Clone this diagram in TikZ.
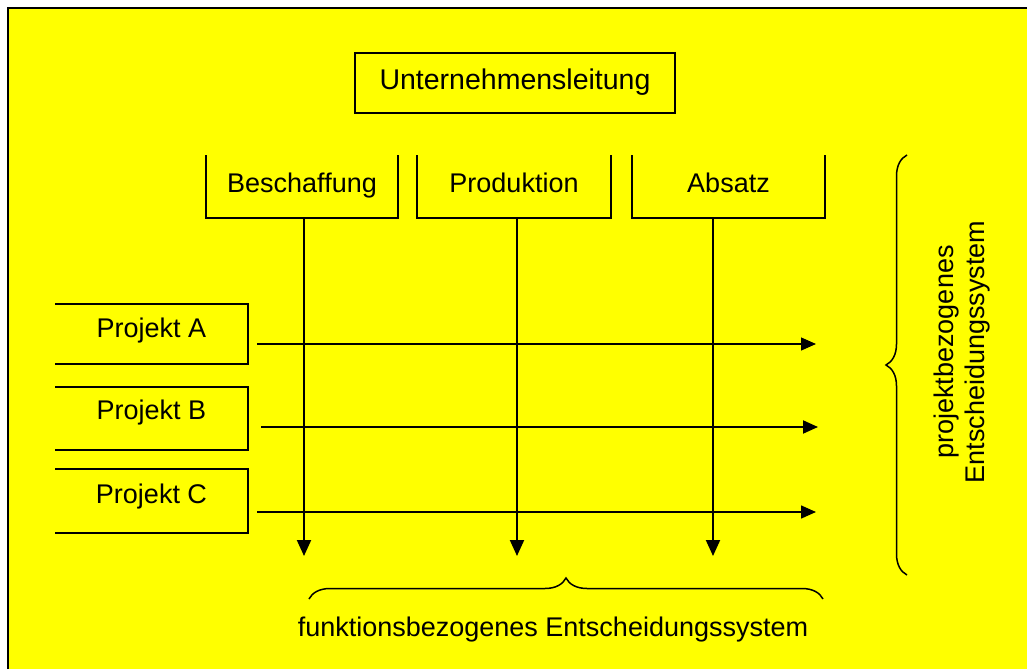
\documentclass[tikz,border=0pt]{standalone}
\usepackage{fontspec}
\setmainfont{Liberation Sans}
\usetikzlibrary{arrows.meta,decorations.pathreplacing}
\definecolor{panel}{RGB}{255,255,0}
\begin{document}
\begin{tikzpicture}[x=1pt,y=-1pt,
  every node/.style={font=\fontsize{27}{31}\selectfont, inner sep=0pt, outer sep=0pt},
  every label/.style={text height=20pt, text depth=6pt},
  frame/.style={line width=2pt},
  boxline/.style={line width=2pt, line join=miter},
  fullbox/.style={draw, line width=2pt, minimum width=320pt, minimum height=60pt},
  openbox/.style={minimum width=#1},
  flow/.style={line width=1.5pt, -{Triangle[length=15pt,width=13pt]}},
  drop/.style={line width=2pt, -{Triangle[length=16pt,width=14pt]}},
  bracket/.style={line width=1.5pt, decorate, decoration={brace, amplitude=21pt}}
]
\useasboundingbox (0,0) rectangle (1027,669);
\fill[white] (0,0) rectangle (1027,669);
\fill[panel] (8,8) rectangle (1027,669);
\draw[frame] (8,669) -- (8,8) -- (1027,8);

% management box
\node[fullbox, label={[font=\fontsize{28.5}{32}\selectfont, yshift=0.7pt]center:Unternehmensleitung}] (ul) at (515,83) {};

% functional units, open at the top
\node[openbox=192pt, minimum height=63pt, label={[yshift=1.5pt]center:Beschaffung}] (fb) at (302,186.5) {};
\node[openbox=194pt, minimum height=63pt, label={[yshift=1.5pt]center:Produktion}] (fp) at (514,186.5) {};
\node[openbox=193pt, minimum height=63pt, label={[yshift=1.5pt]center:Absatz}] (fa) at (728.5,186.5) {};
\foreach \n in {fb,fp,fa}
  \draw[boxline] (\n.north west) -- (\n.south west) -- (\n.south east) -- (\n.north east);

% projects, open at the left
\node[openbox=193pt, minimum height=60pt, label={[yshift=3.3pt]center:Projekt A}] (pa) at (151.5,334) {};
\node[openbox=193pt, minimum height=63pt, label={[yshift=5.8pt]center:Projekt B}] (pb) at (151.5,418.5) {};
\node[openbox=193pt, minimum height=64pt, label={[yshift=4.3pt]center:Projekt C}] (pc) at (151.5,501) {};
\foreach \n in {pa,pb,pc}
  \draw[boxline] (\n.north west) -- (\n.north east) -- (\n.south east) -- (\n.south west);

% vertical flows
\coordinate (db) at (304,556);
\coordinate (dp) at (517,556);
\coordinate (da) at (713,556);
\draw[drop] (fb.south -| db) -- (db);
\draw[drop] (fp.south -| dp) -- (dp);
\draw[drop] (fa.south -| da) -- (da);

% horizontal flows
\coordinate (as) at (257,344);  \coordinate (ae) at (816,344);
\coordinate (bs) at (261,427);  \coordinate (be) at (818,427);
\coordinate (cs) at (257,512);  \coordinate (ce) at (816,512);
\draw[flow, line width=1.2pt] (as) -- (ae);
\draw[flow, line width=2pt] (bs) -- (be);
\draw[flow] (cs) -- (ce);

% braces and their captions
\coordinate (bl) at (309,599);  \coordinate (br) at (823,599);
\coordinate (rb) at (907,575);  \coordinate (rt) at (907,155);
\draw[bracket] (bl) -- (br);
\draw[bracket] (rb) -- (rt);
\node (bottomtext) at (553,630) {funktionsbezogenes Entscheidungssystem};
\node[rotate=90, align=center] (sidetext) at (962,352) {projektbezogenes\\Entscheidungssystem};
\end{tikzpicture}
\end{document}
